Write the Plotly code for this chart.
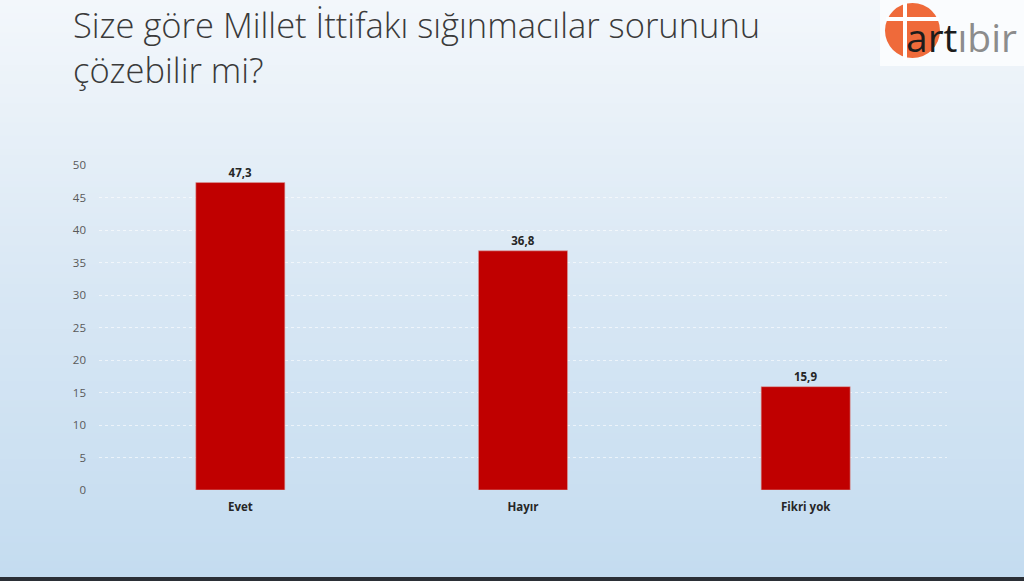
import plotly.graph_objects as go

categories = ["Evet", "Hayır", "Fikri yok"]
values = [47.3, 36.8, 15.9]
labels = ["47,3", "36,8", "15,9"]
tick_vals = [0, 5, 10, 15, 20, 25, 30, 35, 40, 45, 50]

W, H = 1024, 581
PL, PR, PT, PB = 99, 947, 165, 490  # plot area in pixels


def px(x):
    return (x - PL) / (PR - PL)


def py(y):
    return (PB - y) / (PB - PT)


fig = go.Figure()
fig.add_trace(go.Bar(
    x=categories, y=values, text=labels, textposition="outside",
    textfont=dict(family="Open Sans", size=11.5, color="#262626", weight="bold"),
    marker=dict(color="#c00000", line=dict(color="#d9a0a0", width=0.6)),
    width=0.315, cliponaxis=False, showlegend=False, hoverinfo="skip",
))

shapes = []
top = (243, 247, 251)
mid = (216, 231, 244)
bot = (196, 220, 240)
n = 90
for i in range(n):
    t = i / (n - 1)
    if t < 0.5:
        u = t / 0.5
        c = tuple(round(top[k] + (mid[k] - top[k]) * u) for k in range(3))
    else:
        u = (t - 0.5) / 0.5
        c = tuple(round(mid[k] + (bot[k] - mid[k]) * u) for k in range(3))
    y_top = i * H / n
    y_bot = (i + 1) * H / n + 1
    shapes.append(dict(type="rect", xref="paper", yref="paper", x0=px(0), x1=px(W),
                       y0=py(y_bot), y1=py(y_top),
                       fillcolor="rgb(%d,%d,%d)" % c, line=dict(width=0), layer="below"))
# dark bottom strip
shapes.append(dict(type="rect", xref="paper", yref="paper", x0=px(0), x1=px(W), y0=py(H + 2), y1=py(H - 4),
                   fillcolor="#2b2f36", line=dict(width=0), layer="above"))
# logo box
shapes.append(dict(type="rect", xref="paper", yref="paper", x0=px(880), x1=px(W + 2), y0=py(66), y1=py(-2),
                   fillcolor="#fafcfe", line=dict(width=0), layer="above"))
shapes.append(dict(type="circle", xref="paper", yref="paper", x0=px(885), x1=px(940),
                   y0=py(58), y1=py(3),
                   fillcolor="#ef6a3a", line=dict(width=0), layer="above"))
shapes.append(dict(type="rect", xref="paper", yref="paper", x0=px(903), x1=px(907),
                   y0=py(60), y1=py(3), fillcolor="white", line=dict(width=0), layer="above"))
shapes.append(dict(type="rect", xref="paper", yref="paper", x0=px(886), x1=px(939),
                   y0=py(21), y1=py(17), fillcolor="white", line=dict(width=0), layer="above"))

annotations = [
    dict(text="Size göre Millet İttifakı sığınmacılar sorununu<br>çözebilir mi?", xref="paper", yref="paper",
         x=px(71), y=py(-1), xanchor="left", yanchor="top", align="left", showarrow=False,
         font=dict(family="Open Sans", size=34.5, color="#3a3a3a", weight=300)),
    dict(text="<span style='color:#1c1c1c'>art</span><span style='color:#8c8c8c'>ıbir</span>",
         xref="paper", yref="paper", x=px(904), y=py(37), xanchor="left", yanchor="middle",
         showarrow=False, font=dict(family="Open Sans", size=39)),
]

fig.update_layout(
    width=W, height=H,
    margin=dict(l=PL, r=W - PR, t=PT, b=H - PB),
    paper_bgcolor="#e6eef7", plot_bgcolor="rgba(0,0,0,0)",
    shapes=shapes, annotations=annotations,
    xaxis=dict(showgrid=False, showline=False, ticks="", zeroline=False,
               tickfont=dict(family="Open Sans", size=11.5, color="#262626", weight="bold"),
               ticklabelstandoff=8, fixedrange=True),
    yaxis=dict(range=[0, 50], tickvals=tick_vals, showgrid=True, gridcolor="rgba(255,255,255,0.6)",
               griddash="dot", gridwidth=1, zeroline=False, showline=False,
               tickfont=dict(family="Open Sans", size=11.5, color="#595959"), ticks="",
               ticklabelstandoff=12, fixedrange=True),
)

fig.write_html("out.html", config={"displayModeBar": False},
               post_script="document.body.style.margin='0';document.body.style.overflow='hidden';")
